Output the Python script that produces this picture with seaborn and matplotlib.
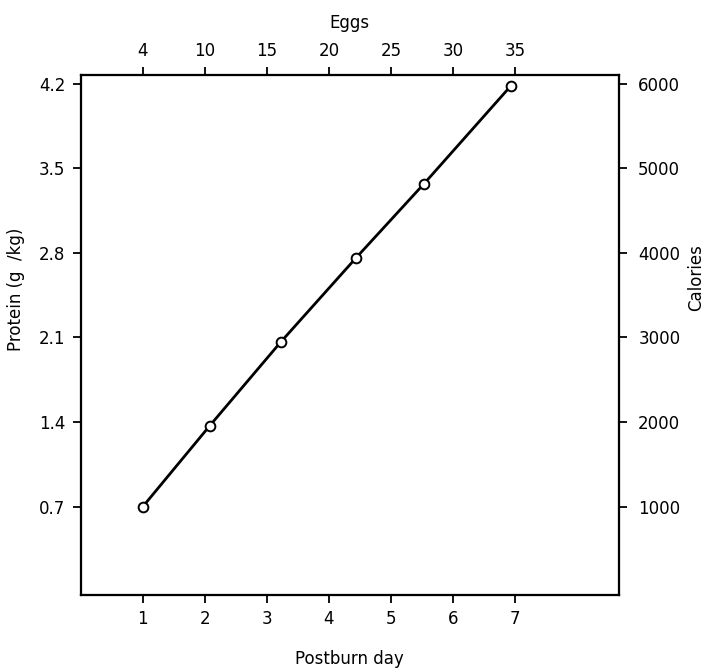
import matplotlib
matplotlib.use('Agg')
import matplotlib.pyplot as plt
import seaborn as sns
import pandas as pd

# --- Data ---
days = [1.0, 2.08, 3.22, 4.44, 5.53, 6.93]
protein = [0.7, 1.37, 2.06, 2.76, 3.37, 4.18]

day_ticks = [1, 2, 3, 4, 5, 6, 7]
egg_labels = ['4', '10', '15', '20', '25', '30', '35']
protein_ticks = [0.7, 1.4, 2.1, 2.8, 3.5, 4.2]
calorie_ticks = [1000, 2000, 3000, 4000, 5000, 6000]

df = pd.DataFrame({'day': days, 'protein': protein})

sns.set_theme(style='ticks')
plt.rcParams['font.family'] = ['DejaVu Sans']
plt.rcParams['axes.linewidth'] = 1.5
plt.rcParams['text.color'] = 'black'
plt.rcParams['axes.labelcolor'] = 'black'

fig = plt.figure(figsize=(7.08, 6.70), dpi=100)
ax = fig.add_axes([0.114, 0.112, 0.760, 0.776])

sns.lineplot(data=df, x='day', y='protein', ax=ax, color='black', linewidth=2,
             marker='o', markersize=7, markerfacecolor='white',
             markeredgecolor='black', markeredgewidth=1.4)

ylim = (-0.03, 4.27)
ax.set_xlim(0, 8.67)
ax.set_ylim(*ylim)
ax.set_xticks(day_ticks)
ax.set_yticks(protein_ticks)
ax.set_yticklabels([f'{v:.1f}' for v in protein_ticks])
ax.set_xlabel('Postburn day', fontsize=12, labelpad=16)
ax.set_ylabel('Protein (g  /kg)', fontsize=12, labelpad=10)
ax.yaxis.label.set_y(0.587)

tick_kw = dict(direction='out', length=6, width=1.3, labelsize=12, colors='black', pad=5)
ax.tick_params(axis='both', **tick_kw)

# right axis: calories (same scale, 0.7 g/kg per 1000 cal)
ax_r = ax.twinx()
ax_r.set_ylim(ylim[0] / 0.7 * 1000, ylim[1] / 0.7 * 1000)
ax_r.set_yticks(calorie_ticks)
ax_r.set_ylabel('Calories', fontsize=12, labelpad=5)
ax_r.yaxis.label.set_y(0.61)
ax_r.tick_params(axis='y', **dict(tick_kw, pad=8))

# top axis: eggs, labels placed on the day positions
ax_t = ax.twiny()
ax_t.set_xlim(ax.get_xlim())
ax_t.set_xticks(day_ticks)
ax_t.set_xticklabels(egg_labels)
ax_t.set_xlabel('Eggs', fontsize=12, labelpad=10)
ax_t.tick_params(axis='x', **tick_kw)

for a in (ax, ax_r, ax_t):
    for s in a.spines.values():
        s.set_linewidth(1.5)
        s.set_color('black')
        s.set_visible(True)

fig.savefig('out.png', dpi=100, facecolor='white')
plt.close()
